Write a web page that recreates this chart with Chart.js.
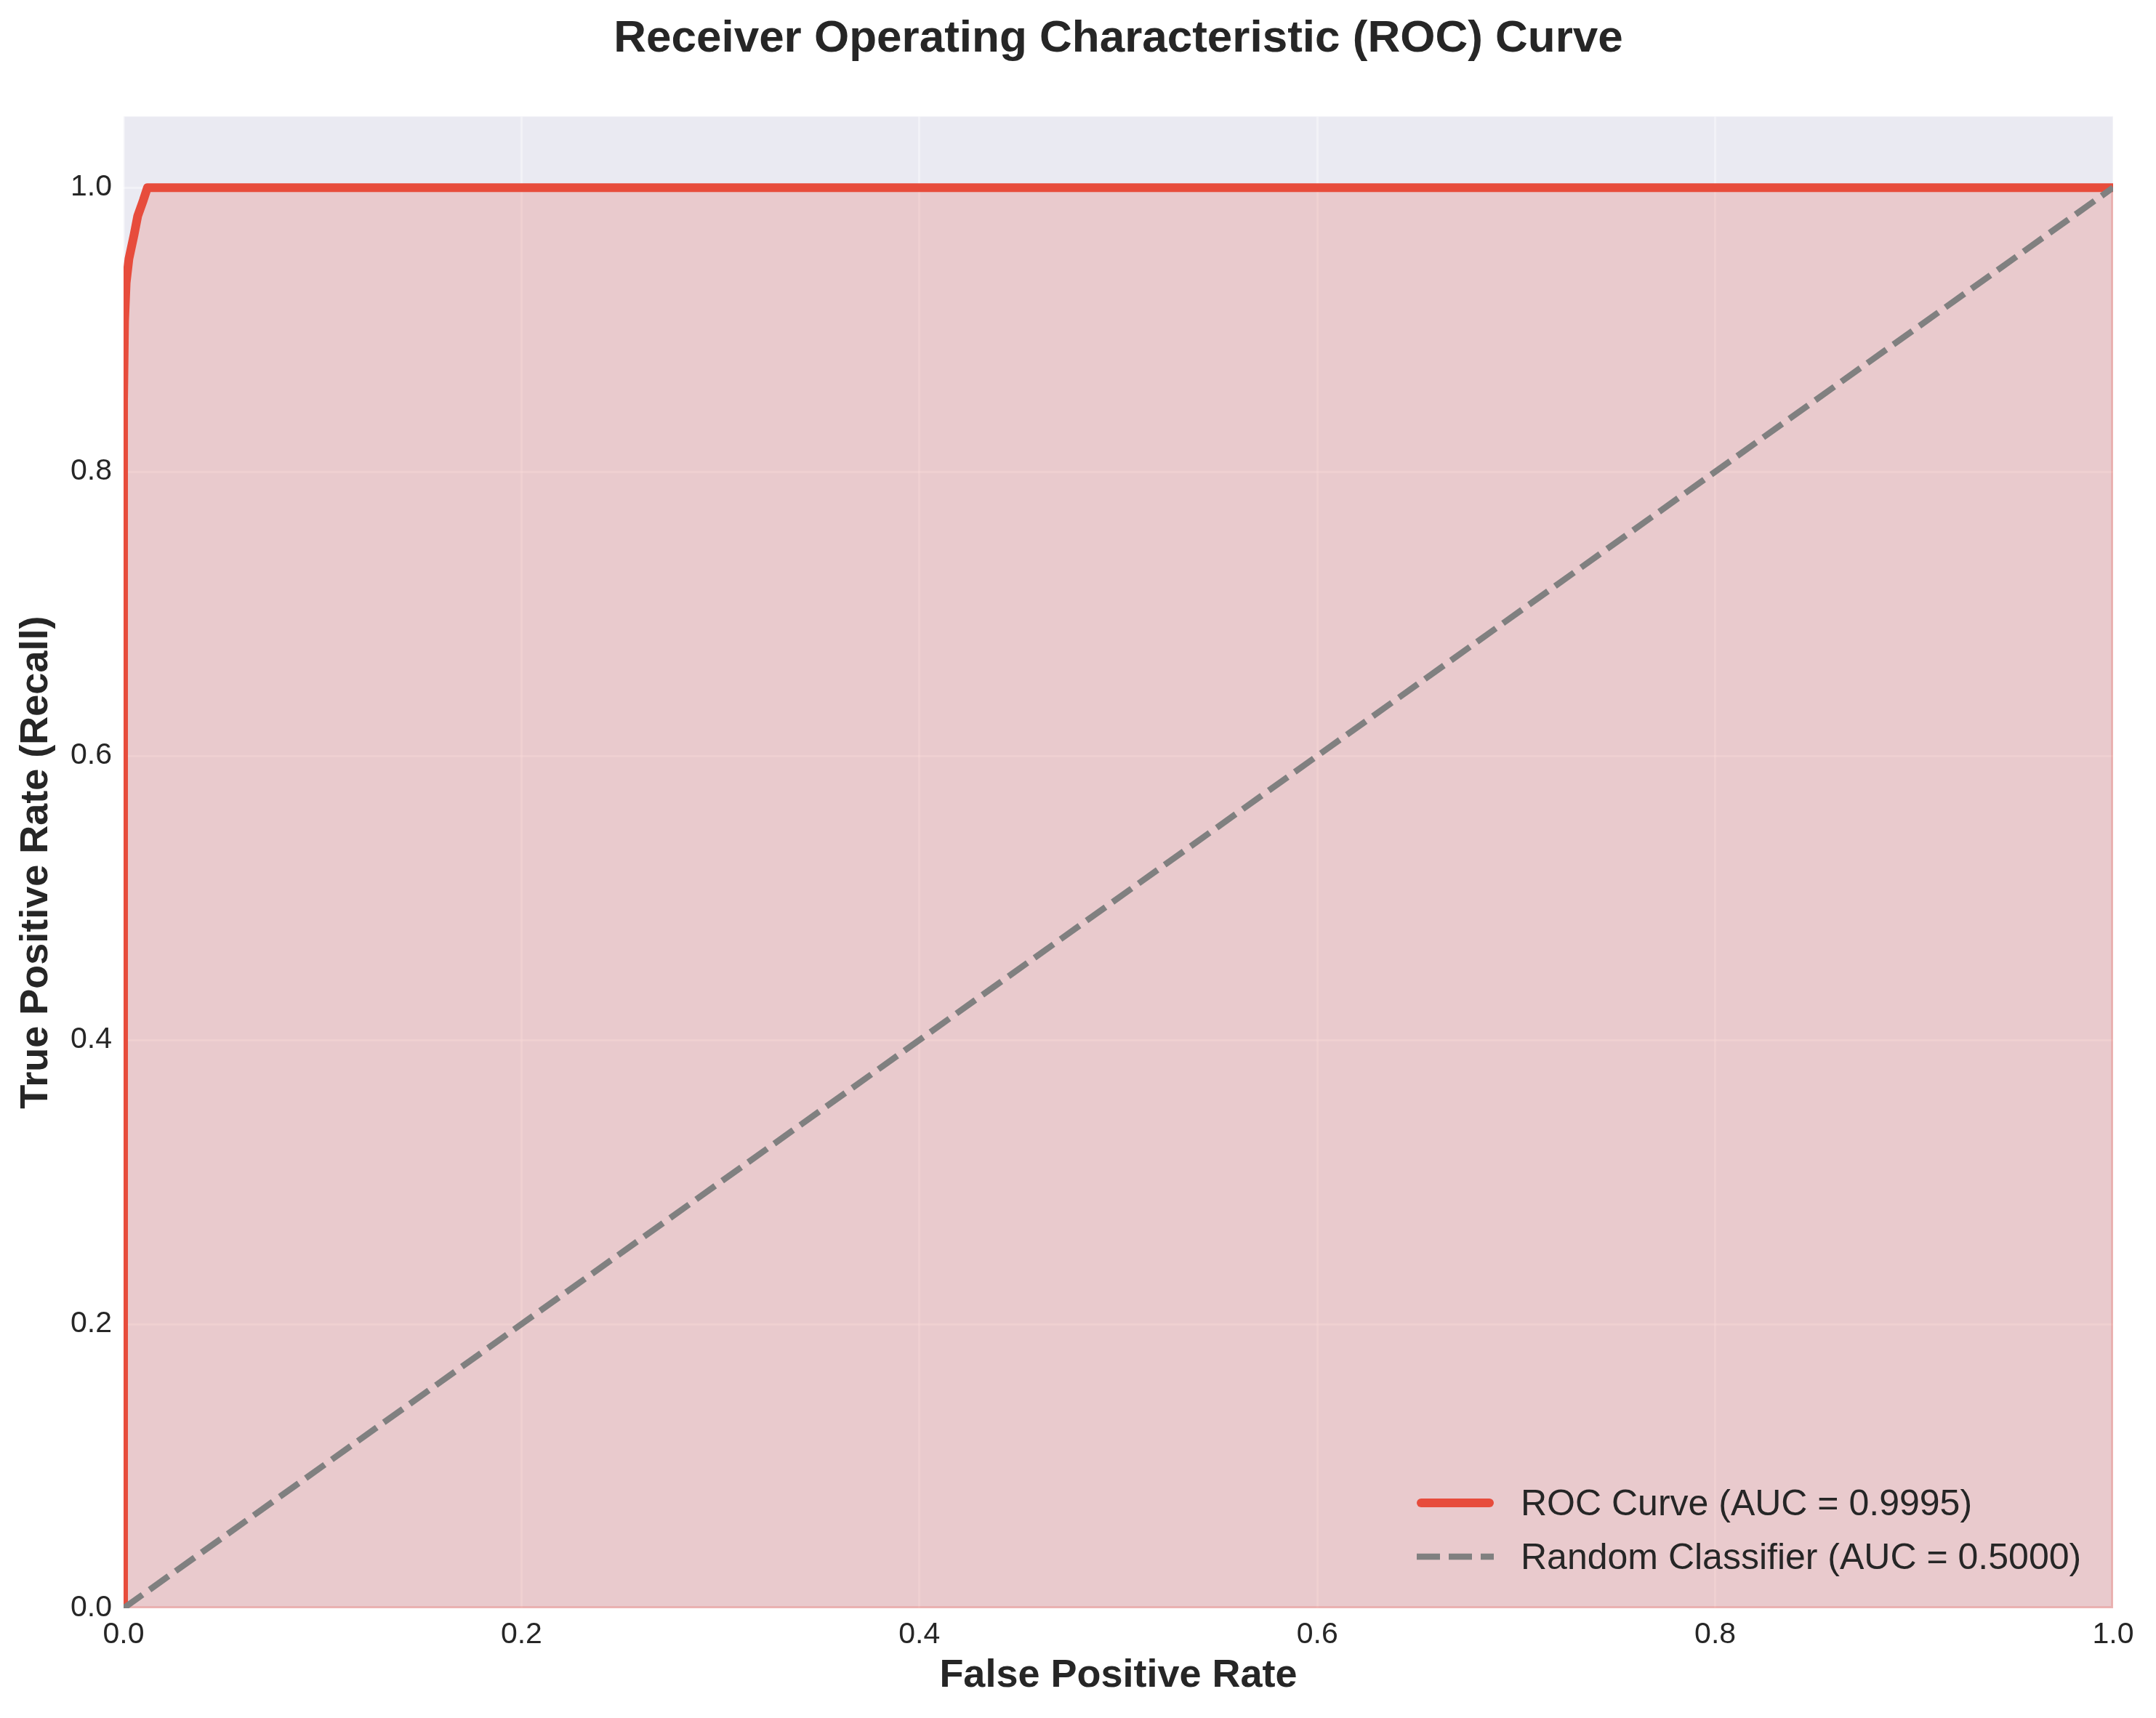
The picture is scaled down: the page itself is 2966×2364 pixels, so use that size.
<!DOCTYPE html>
<html lang="en">
<head>
  <meta charset="UTF-8">
  <title>ROC Curve</title>
  <script src="https://cdn.jsdelivr.net/npm/chart.js"></script>
  <style>
    html, body { margin: 0; padding: 0; background: #ffffff; }
    #wrap { width: 2966px; height: 2364px; }
  </style>
</head>
<body>
  <div id="wrap"><canvas id="roc" width="2966" height="2364"></canvas></div>
  <script>
    // ROC curve (steep rise near fpr = 0)
    const rocFpr = [0, 0, 0.0005, 0.0013, 0.0027, 0.0053, 0.0071, 0.0099, 0.012, 1.0];
    const rocTpr = [0, 0.85, 0.906, 0.933, 0.950, 0.967, 0.980, 0.991, 1.0, 1.0];
    // chance diagonal
    const randFpr = [0, 1];
    const randTpr = [0, 1];
    // outline of the shaded area (bottom and right edge)
    const edgeFpr = [0, 1, 1];
    const edgeTpr = [0, 0, 1];
    const tickValues = [0, 0.2, 0.4, 0.6, 0.8, 1.0];
    const rocLabel = 'ROC Curve (AUC = 0.9995)';
    const randLabel = 'Random Classifier (AUC = 0.5000)';

    const textColor = '#262626';
    const fontFamily = '"Liberation Sans", Arial, sans-serif';

    const toPoints = (xs, ys) => xs.map((x, i) => ({ x: x, y: ys[i] }));

    // paint page white and the axes face light lavender
    const facePlugin = {
      id: 'face',
      beforeDraw(chart) {
        const { ctx, chartArea: a } = chart;
        ctx.save();
        ctx.fillStyle = '#ffffff';
        ctx.fillRect(0, 0, chart.width, chart.height);
        ctx.fillStyle = '#EAEAF2';
        ctx.fillRect(a.left, a.top, a.right - a.left, a.bottom - a.top);
        ctx.restore();
      }
    };

    // legend drawn inside the plot, lower right, no frame
    const innerLegend = {
      id: 'innerLegend',
      afterDraw(chart) {
        const { ctx, chartArea: a } = chart;
        const items = chart.data.datasets.filter(d => d.label);
        const x0 = a.right - 958;
        const lineLen = 106;
        const textX = a.right - 815;
        let y = a.bottom - 145;
        ctx.save();
        ctx.font = '50px ' + fontFamily;
        ctx.fillStyle = textColor;
        ctx.textBaseline = 'middle';
        items.forEach(d => {
          ctx.strokeStyle = d.borderColor;
          ctx.lineWidth = d.borderWidth;
          ctx.lineCap = d.borderCapStyle || 'butt';
          ctx.setLineDash(d.borderDash || []);
          ctx.beginPath();
          ctx.moveTo(x0 + (ctx.lineCap === 'round' ? 6 : 0), y);
          ctx.lineTo(x0 + lineLen - (ctx.lineCap === 'round' ? 6 : 0), y);
          ctx.stroke();
          ctx.setLineDash([]);
          ctx.fillText(d.label, textX, y + 3);
          y += 74;
        });
        ctx.restore();
      }
    };

    const axisFont = { family: fontFamily, size: 41 };
    const titleFont = { family: fontFamily, size: 54, weight: 'bold' };
    const gridStyle = { color: 'rgba(255,255,255,0.4)', lineWidth: 3, drawTicks: false };
    const setTicks = scale => { scale.ticks = tickValues.map(v => ({ value: v })); };

    new Chart(document.getElementById('roc').getContext('2d'), {
      type: 'scatter',
      data: {
        datasets: [
          {
            label: rocLabel,
            data: toPoints(rocFpr, rocTpr),
            showLine: true,
            borderColor: '#E74C3C',
            backgroundColor: 'rgba(231,76,60,0.2)',
            borderWidth: 12,
            borderJoinStyle: 'round',
            borderCapStyle: 'round',
            fill: 'origin',
            pointRadius: 0,
            clip: 0,
            order: 1
          },
          {
            label: randLabel,
            data: toPoints(randFpr, randTpr),
            showLine: true,
            borderColor: '#808080',
            borderWidth: 8.5,
            borderDash: [32, 12],
            fill: false,
            pointRadius: 0,
            clip: 0,
            order: 0
          },
          {
            data: toPoints(edgeFpr, edgeTpr),
            showLine: true,
            borderColor: 'rgba(231,76,60,0.2)',
            borderWidth: 6,
            fill: false,
            pointRadius: 0,
            clip: 0,
            order: 2
          }
        ]
      },
      options: {
        responsive: false,
        animation: false,
        devicePixelRatio: 1,
        layout: { padding: { right: 59 } },
        plugins: {
          legend: { display: false },
          tooltip: { enabled: false },
          filler: { drawTime: 'beforeDatasetsDraw' },
          title: {
            display: true,
            fullSize: false,
            text: 'Receiver Operating Characteristic (ROC) Curve',
            color: textColor,
            font: { family: fontFamily, size: 62, weight: 'bold' },
            padding: { top: 17, bottom: 69 }
          }
        },
        scales: {
          x: {
            type: 'linear',
            min: 0,
            max: 1,
            afterBuildTicks: setTicks,
            afterFit: s => { s.height = 151; },
            grid: gridStyle,
            border: { display: false },
            ticks: {
              autoSkip: false,
              maxRotation: 0,
              padding: 12,
              color: textColor,
              font: axisFont,
              callback: v => v.toFixed(1)
            },
            title: {
              display: true,
              text: 'False Positive Rate',
              color: textColor,
              font: titleFont,
              padding: { top: 0, bottom: 25 }
            }
          },
          y: {
            type: 'linear',
            min: 0,
            max: 1.05,
            afterBuildTicks: setTicks,
            afterFit: s => { s.width = 170; },
            grid: gridStyle,
            border: { display: false },
            ticks: {
              autoSkip: false,
              padding: 16,
              color: textColor,
              font: axisFont,
              callback: v => v.toFixed(1)
            },
            title: {
              display: true,
              text: 'True Positive Rate (Recall)',
              color: textColor,
              font: titleFont,
              padding: { top: 18, bottom: 0 }
            }
          }
        }
      },
      plugins: [facePlugin, innerLegend]
    });
  </script>
</body>
</html>
